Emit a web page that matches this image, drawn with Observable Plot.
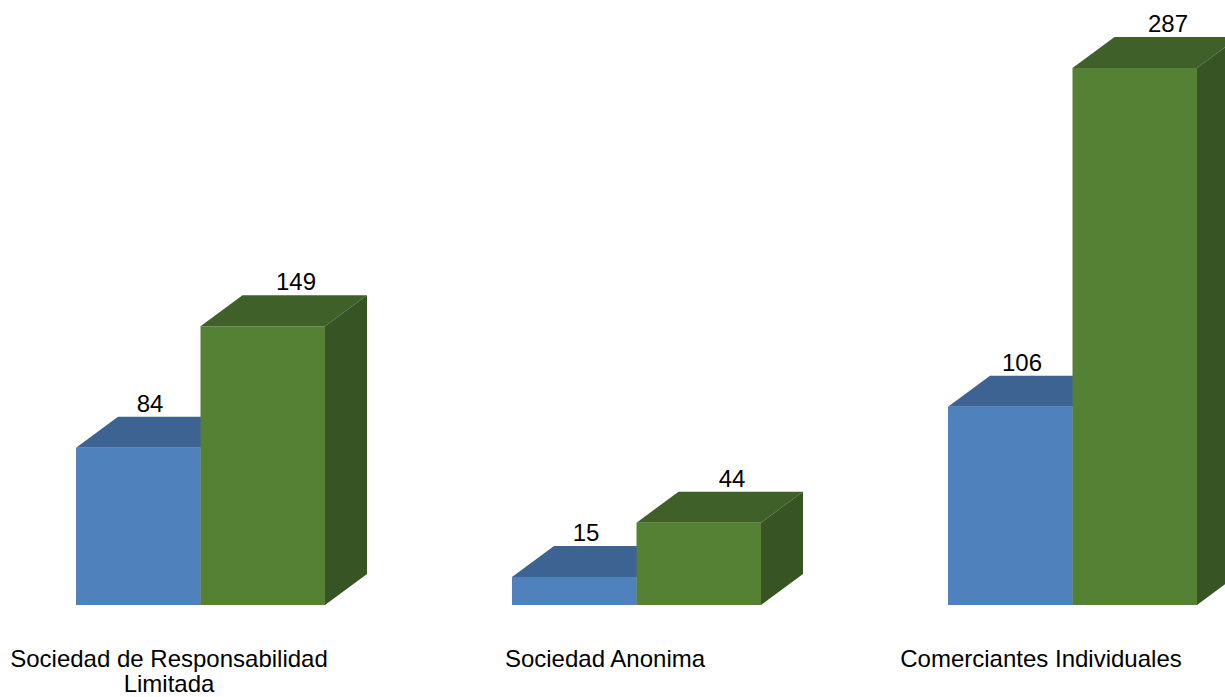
<!DOCTYPE html>
<html>
<head>
<meta charset="utf-8">
<script src="https://cdn.jsdelivr.net/npm/d3@7"></script>
<script src="https://cdn.jsdelivr.net/npm/@observablehq/plot@0.6"></script>
<style>
  html, body { margin: 0; padding: 0; background: #fff; }
  #chart svg { display: block; }
</style>
</head>
<body>
<div id="chart"></div>
<script>
// ---- data ----
const categories = ["Sociedad de Responsabilidad Limitada", "Sociedad Anonima", "Comerciantes Individuales"];
const categoryLabels = ["Sociedad de Responsabilidad\nLimitada", "Sociedad Anonima", "Comerciantes Individuales"];
const seriesNames = ["Serie 1", "Serie 2"];
const seriesA = [84, 15, 106];
const seriesB = [149, 44, 287];

// ---- styles ----
const colors = {
  "Serie 1": {front: "#4F81BD", top: "#3C6391", side: "#34567F"},
  "Serie 2": {front: "#558135", top: "#3F6129", side: "#365424"}
};
const DEPTH_X = 42, DEPTH_Y = 31;

const rows = [];
categories.forEach((c, i) => {
  rows.push({category: c, series: seriesNames[0], value: seriesA[i], k: 0});
  rows.push({category: c, series: seriesNames[1], value: seriesB[i], k: 1});
});
const rowsA = rows.filter(d => d.k === 0);
const rowsB = rows.filter(d => d.k === 1);
const labelOf = new Map(categories.map((c, i) => [c, categoryLabels[i]]));

function bars3d(index, scales) {
  const x = scales.x, y = scales.y;
  const bw = typeof x.bandwidth === "function" ? x.bandwidth() : x.bandwidth;
  const w = bw / seriesNames.length;
  const g = d3.create("svg:g");
  for (const d of rows) {
    const x0 = x(d.category) + d.k * w, x1 = x0 + w;
    const y0 = y(0), y1 = y(d.value);
    const c = colors[d.series];
    g.append("path")
      .attr("d", `M${x0},${y1}L${x1},${y1}L${x1 + DEPTH_X},${y1 - DEPTH_Y}L${x0 + DEPTH_X},${y1 - DEPTH_Y}Z`)
      .attr("fill", c.top);
    g.append("path")
      .attr("d", `M${x1},${y1}L${x1 + DEPTH_X},${y1 - DEPTH_Y}L${x1 + DEPTH_X},${y0 - DEPTH_Y}L${x1},${y0}Z`)
      .attr("fill", c.side);
    g.append("rect")
      .attr("x", x0).attr("y", y1).attr("width", w).attr("height", y0 - y1)
      .attr("fill", c.front);
  }
  return g.node();
}

const chart = Plot.plot({
  width: 1225,
  height: 697,
  marginLeft: 76,
  marginRight: 28,
  marginTop: 68,
  marginBottom: 92,
  style: {fontFamily: "'Liberation Sans', Arial, sans-serif", fontSize: "24px", background: "#fff", color: "#000"},
  x: {type: "band", domain: categories, paddingInner: 0.4289, paddingOuter: 0, axis: null},
  y: {domain: [0, 287], axis: null},
  marks: [
    Plot.tickY(rows, {x: "category", y: 0, stroke: "none"}),
    bars3d,
    Plot.text(rowsA, {x: "category", y: "value", text: d => String(d.value), dx: -51, dy: -44, fontSize: 24, fill: "#000"}),
    Plot.text(rowsB, {x: "category", y: "value", text: d => String(d.value), dx: 95, dy: -44, fontSize: 24, fill: "#000"}),
    Plot.text(categories, {x: d => d, y: 0, text: d => labelOf.get(d), lineAnchor: "top", dx: -32, dy: 44, fontSize: 24, lineHeight: 1.04, fill: "#000"})
  ]
});
document.getElementById("chart").appendChild(chart);
</script>
</body>
</html>
